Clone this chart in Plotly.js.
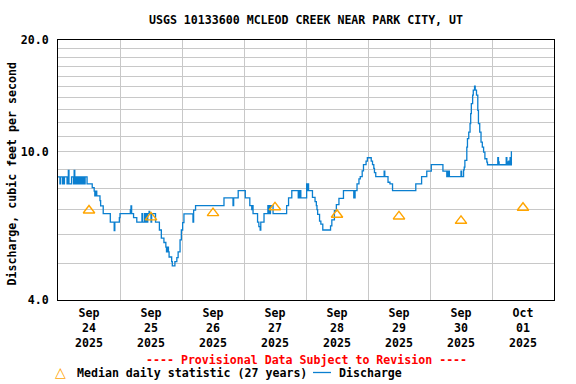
<!DOCTYPE html>
<html>
<head>
<meta charset="utf-8">
<script src="https://cdn.plot.ly/plotly-3.0.1.min.js"></script>
<style>
  html, body { margin: 0; padding: 0; background: #fff; }
  #chart { width: 576px; height: 384px; }
</style>
</head>
<body>
<div id="chart"></div>
<script>
// ---- Data ----
const chartTitle = 'USGS 10133600 MCLEOD CREEK NEAR PARK CITY, UT';
const yAxisTitle = 'Discharge, cubic feet per second';
const provisionalNote = '---- Provisional Data Subject to Revision ----';
const medianLabel = 'Median daily statistic (27 years)';
const dischargeLabel = 'Discharge';

// Discharge (cfs), step changes of the 15-minute record
const dischargeTime = [
  '2025-09-24 00:00','2025-09-24 00:45','2025-09-24 01:00','2025-09-24 01:45','2025-09-24 02:00','2025-09-24 02:15','2025-09-24 02:30','2025-09-24 03:30','2025-09-24 04:00','2025-09-24 04:15',
  '2025-09-24 05:15','2025-09-24 06:00','2025-09-24 06:15','2025-09-24 06:30','2025-09-24 06:45','2025-09-24 07:00','2025-09-24 07:15','2025-09-24 07:30','2025-09-24 07:45','2025-09-24 08:00',
  '2025-09-24 08:15','2025-09-24 08:45','2025-09-24 09:00','2025-09-24 09:15','2025-09-24 09:30','2025-09-24 09:45','2025-09-24 10:00','2025-09-24 10:15','2025-09-24 10:30','2025-09-24 11:15',
  '2025-09-24 13:15','2025-09-24 14:00','2025-09-24 14:15','2025-09-24 14:30','2025-09-24 15:00','2025-09-24 16:15','2025-09-24 16:30','2025-09-24 17:30','2025-09-24 20:15','2025-09-24 21:45',
  '2025-09-24 22:00','2025-09-24 23:45',
  '2025-09-25 00:00','2025-09-25 04:00','2025-09-25 04:15','2025-09-25 04:30','2025-09-25 05:15','2025-09-25 06:30','2025-09-25 08:30','2025-09-25 08:45','2025-09-25 09:30','2025-09-25 09:45',
  '2025-09-25 10:15','2025-09-25 10:30','2025-09-25 10:45','2025-09-25 11:15','2025-09-25 11:30','2025-09-25 12:00','2025-09-25 12:15','2025-09-25 13:45','2025-09-25 15:15','2025-09-25 16:00',
  '2025-09-25 17:00','2025-09-25 17:45','2025-09-25 18:00','2025-09-25 18:15','2025-09-25 18:45','2025-09-25 19:00','2025-09-25 20:00','2025-09-25 20:15','2025-09-25 21:15','2025-09-25 22:00',
  '2025-09-25 22:30','2025-09-25 23:15','2025-09-25 23:45',
  '2025-09-26 00:15','2025-09-26 00:45','2025-09-26 04:15','2025-09-26 04:30','2025-09-26 05:15','2025-09-26 16:15','2025-09-26 19:45','2025-09-26 20:00','2025-09-26 21:45',
  '2025-09-27 00:30','2025-09-27 02:15','2025-09-27 03:00','2025-09-27 03:15','2025-09-27 03:30','2025-09-27 05:15','2025-09-27 05:45','2025-09-27 06:15','2025-09-27 06:30','2025-09-27 07:45',
  '2025-09-27 09:15','2025-09-27 09:30','2025-09-27 09:45','2025-09-27 10:00','2025-09-27 10:15','2025-09-27 11:15','2025-09-27 16:30','2025-09-27 17:15','2025-09-27 18:30','2025-09-27 21:00',
  '2025-09-27 21:15','2025-09-27 21:30','2025-09-27 21:45','2025-09-27 22:00',
  '2025-09-28 00:15','2025-09-28 00:30','2025-09-28 00:45','2025-09-28 01:00','2025-09-28 02:30','2025-09-28 03:30','2025-09-28 04:00','2025-09-28 04:15','2025-09-28 04:30','2025-09-28 05:15',
  '2025-09-28 05:45','2025-09-28 06:30','2025-09-28 09:30','2025-09-28 10:00','2025-09-28 11:00','2025-09-28 11:45','2025-09-28 12:45','2025-09-28 14:30','2025-09-28 18:30','2025-09-28 19:00',
  '2025-09-28 19:45','2025-09-28 20:30','2025-09-28 21:00','2025-09-28 21:45','2025-09-28 22:15','2025-09-28 23:15','2025-09-28 23:45',
  '2025-09-29 01:15','2025-09-29 01:45','2025-09-29 02:15','2025-09-29 02:30','2025-09-29 03:00','2025-09-29 06:15','2025-09-29 06:30','2025-09-29 07:45','2025-09-29 08:30','2025-09-29 09:30',
  '2025-09-29 18:30','2025-09-29 20:45','2025-09-29 22:45',
  '2025-09-30 00:30','2025-09-30 05:00','2025-09-30 06:30','2025-09-30 06:45','2025-09-30 07:00','2025-09-30 07:15','2025-09-30 07:30','2025-09-30 12:00','2025-09-30 12:15','2025-09-30 13:00',
  '2025-09-30 13:15','2025-09-30 13:30','2025-09-30 14:15','2025-09-30 14:30','2025-09-30 15:00','2025-09-30 15:30','2025-09-30 15:45','2025-09-30 16:00','2025-09-30 16:30','2025-09-30 16:45',
  '2025-09-30 17:15','2025-09-30 17:30','2025-09-30 18:00','2025-09-30 18:30','2025-09-30 18:45','2025-09-30 19:15','2025-09-30 19:45','2025-09-30 20:15','2025-09-30 20:45','2025-09-30 21:15',
  '2025-09-30 22:00','2025-09-30 22:15',
  '2025-10-01 02:15','2025-10-01 02:30','2025-10-01 02:45','2025-10-01 05:30','2025-10-01 05:45','2025-10-01 06:00','2025-10-01 06:30','2025-10-01 06:45','2025-10-01 07:00','2025-10-01 07:15',
  '2025-10-01 07:30'
];
const dischargeValue = [
  8.57,8.21,8.57,8.21,8.57,8.21,8.57,8.21,8.92,8.21,
  8.57,8.21,8.92,8.21,8.57,8.21,8.57,8.21,8.57,8.21,
  8.57,8.21,8.57,8.21,8.57,8.21,8.57,8.21,8.57,8.21,
  8.02,7.85,7.62,7.85,7.62,7.40,7.16,6.83,6.48,6.15,
  6.48,6.66,
  6.83,7.00,7.16,6.83,6.66,6.48,6.83,6.48,6.83,6.48,
  6.83,6.48,6.83,6.92,6.83,6.48,6.83,6.48,6.17,5.87,
  5.71,5.55,5.39,5.55,5.39,5.22,5.07,4.94,5.07,5.20,
  5.39,5.80,6.17,
  6.46,6.82,6.48,6.98,7.17,7.53,7.17,7.53,7.87,
  7.53,7.17,7.00,7.17,6.83,6.48,6.30,6.17,6.48,6.83,
  7.17,6.83,7.17,6.83,7.17,6.83,7.17,7.53,7.87,7.53,
  7.87,7.53,7.87,7.53,
  8.21,7.87,8.21,7.87,7.55,7.35,7.17,7.00,6.80,6.52,
  6.40,6.17,6.33,6.57,6.95,7.22,7.50,7.87,7.53,7.87,
  8.21,8.47,8.59,8.90,9.25,9.45,9.65,
  9.45,9.25,9.03,8.80,8.59,8.88,8.59,8.29,8.21,7.87,
  8.21,8.59,8.88,
  9.25,8.88,8.59,8.88,8.59,8.88,8.59,8.88,8.59,8.95,
  9.10,9.49,10.31,10.86,11.31,11.92,12.68,13.49,14.21,14.66,
  15.03,14.66,14.21,12.94,11.92,11.31,10.63,10.31,9.99,9.59,
  9.39,9.24,
  9.65,9.40,9.24,9.65,9.40,9.24,9.45,9.24,9.65,9.24,
  10.05
];

// Median daily statistic (cfs), plotted at noon of each day
const medianTime = ['2025-09-24 12:00','2025-09-25 12:00','2025-09-26 12:00','2025-09-27 12:00','2025-09-28 12:00','2025-09-29 12:00','2025-09-30 12:00','2025-10-01 12:00'];
const medianValue = [6.96, 6.67, 6.85, 7.10, 6.78, 6.71, 6.53, 7.08];

// Axis ticks
const xTickVals = ['2025-09-24 12:00','2025-09-25 12:00','2025-09-26 12:00','2025-09-27 12:00','2025-09-28 12:00','2025-09-29 12:00','2025-09-30 12:00','2025-10-01 12:00'];
const xTickText = ['Sep<br>24<br>2025','Sep<br>25<br>2025','Sep<br>26<br>2025','Sep<br>27<br>2025','Sep<br>28<br>2025','Sep<br>29<br>2025','Sep<br>30<br>2025','Oct<br>01<br>2025'];
const xGridVals = ['2025-09-25','2025-09-26','2025-09-27','2025-09-28','2025-09-29','2025-09-30','2025-10-01'];
const xRange = ['2025-09-24 00:00','2025-10-02 00:00'];
const yTickVals = [4, 10, 20];
const yTickText = ['4.0', '10.0', '20.0'];
const yGridVals = [5,6,7,8,9,11,12,13,14,15,16,17,18,19];
const yRange = [4, 20];

// ---- Chart ----
const FONT = 'DejaVu Sans Mono, Liberation Mono, monospace';
const FS = 11.6;
const LINE_COLOR = '#0a7fd0';
const MED_COLOR = '#FFA500';
const GRID = '#c8c8c8';

// pixel helpers for plot area (left 58, top 40, width 496, height 260)
const PL = 58, PT = 40, PW = 496, PH = 260;
const px = x => (x - PL) / PW;
const py = y => (PT + PH - y) / PH;

const traces = [
  {
    x: dischargeTime, y: dischargeValue, type: 'scatter', mode: 'lines',
    line: { color: LINE_COLOR, width: 1.3, shape: 'hv' },
    name: dischargeLabel, showlegend: false, hoverinfo: 'x+y'
  },
  {
    x: medianTime, y: medianValue, type: 'scatter', mode: 'markers',
    marker: { symbol: 'triangle-up-open', size: 10, color: MED_COLOR, line: { color: MED_COLOR, width: 1.4 } },
    name: medianLabel, showlegend: false
  }
];

const layout = {
  width: 576, height: 384,
  margin: { l: PL, r: 576 - PL - PW, t: PT, b: 384 - PT - PH, pad: 0 },
  paper_bgcolor: '#fff', plot_bgcolor: '#fff',
  font: { family: FONT, size: FS, color: '#000', weight: 'bold' },
  showlegend: false,
  title: {
    text: chartTitle,
    font: { family: FONT, size: FS, color: '#000', weight: 'bold' },
    xref: 'paper', x: 0.5, xanchor: 'center',
    yref: 'container', y: 1 - 20 / 384, yanchor: 'middle'
  },
  xaxis: {
    type: 'date', range: xRange, fixedrange: true,
    tickmode: 'array', tickvals: xTickVals, ticktext: xTickText,
    tickfont: { family: FONT, size: FS, color: '#000', weight: 'bold' },
    ticks: '', ticklabelstandoff: 2,
    showgrid: false, zeroline: false,
    minor: { tickmode: 'array', tickvals: xGridVals, showgrid: true, gridcolor: GRID, gridwidth: 1, ticks: '' },
    showline: true, mirror: true, linecolor: '#000', linewidth: 1
  },
  yaxis: {
    type: 'log', range: [Math.log10(yRange[0]), Math.log10(yRange[1])], fixedrange: true,
    tickmode: 'array', tickvals: yTickVals, ticktext: yTickText,
    tickfont: { family: FONT, size: FS, color: '#000', weight: 'bold' },
    ticks: '', ticklabelstandoff: 6,
    showgrid: true, gridcolor: GRID, gridwidth: 1, zeroline: false,
    minor: { tickmode: 'array', tickvals: yGridVals, showgrid: true, gridcolor: GRID, gridwidth: 1, ticks: '' },
    showline: true, mirror: true, linecolor: '#000', linewidth: 1
  },
  annotations: [
    { text: yAxisTitle, textangle: -90, xref: 'paper', yref: 'paper', x: px(11.5), y: py(174),
      xanchor: 'center', yanchor: 'middle', showarrow: false,
      font: { family: FONT, size: FS, color: '#000', weight: 'bold' } },
    { text: provisionalNote, xref: 'paper', yref: 'paper', x: px(306), y: py(359.5),
      xanchor: 'center', yanchor: 'middle', showarrow: false,
      font: { family: FONT, size: FS, color: '#ff0000', weight: 'bold' } },
    { text: '△', xref: 'paper', yref: 'paper', x: px(60.5), y: py(371.5),
      xanchor: 'center', yanchor: 'middle', showarrow: false,
      font: { family: 'DejaVu Sans, sans-serif', size: 14, color: MED_COLOR } },
    { text: medianLabel, xref: 'paper', yref: 'paper', x: px(74.5), y: py(373),
      xanchor: 'left', yanchor: 'middle', showarrow: false,
      font: { family: FONT, size: FS, color: '#000', weight: 'bold' } },
    { text: dischargeLabel, xref: 'paper', yref: 'paper', x: px(336.5), y: py(373),
      xanchor: 'left', yanchor: 'middle', showarrow: false,
      font: { family: FONT, size: FS, color: '#000', weight: 'bold' } }
  ],
  shapes: [
    { type: 'line', xref: 'paper', yref: 'paper', x0: px(313), x1: px(331), y0: py(372.5), y1: py(372.5),
      line: { color: LINE_COLOR, width: 1.3 } }
  ]
};

Plotly.newPlot('chart', traces, layout, { staticPlot: true, displayModeBar: false });
</script>
</body>
</html>
